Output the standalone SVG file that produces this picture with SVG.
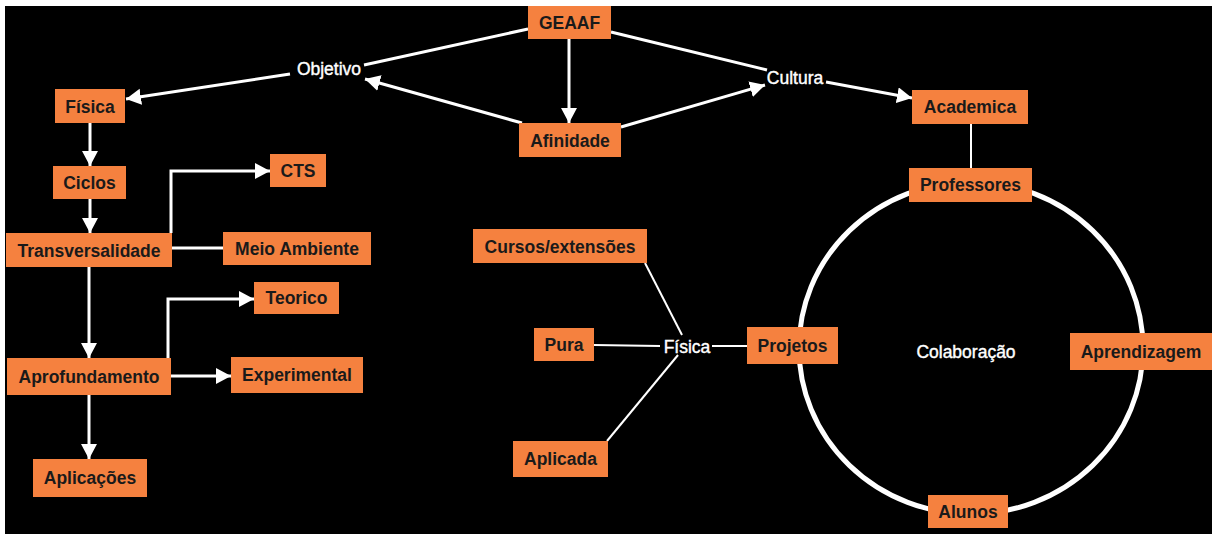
<svg xmlns="http://www.w3.org/2000/svg" width="1212" height="534" viewBox="0 0 1212 534">
<defs>
<style>
.box{fill:#F5813F;}
.bt{font-family:"Liberation Sans",Arial,sans-serif;font-weight:bold;font-size:17.5px;fill:#1a1a1a;text-anchor:middle;dominant-baseline:central;}
.lt{font-family:"Liberation Sans",Arial,sans-serif;font-size:17.5px;fill:#ffffff;stroke:#ffffff;stroke-width:0.4;text-anchor:middle;dominant-baseline:central;}
.c{stroke:#ffffff;stroke-width:3;fill:none;}
.t{stroke:#ffffff;stroke-width:2;fill:none;}
</style>
<marker id="ah" markerUnits="userSpaceOnUse" markerWidth="16" markerHeight="17" refX="15" refY="8" orient="auto">
<path d="M0,0 L15,8 L0,16 z" fill="#ffffff"/>
</marker>
</defs>
<rect x="0" y="0" width="1212" height="534" fill="#ffffff"/>
<rect x="5" y="6" width="1207" height="528" fill="#000000"/>
<ellipse cx="971" cy="348" rx="172" ry="166" fill="none" stroke="#ffffff" stroke-width="5"/>
<g id="connectors">
<path class="c" d="M528,29 L364,65"/>
<path class="c" d="M290,74 L126,99" marker-end="url(#ah)"/>
<path class="c" d="M522,123 L365,79" marker-end="url(#ah)"/>
<path class="c" d="M569,39 L569,123" marker-end="url(#ah)"/>
<path class="c" d="M611,32 L767,70"/>
<path class="c" d="M621,127 L765,85" marker-end="url(#ah)"/>
<path class="c" d="M826,82 L912,98" marker-end="url(#ah)"/>
<path class="t" d="M971,124 L971,168"/>
<path class="c" d="M90,123 L90,166" marker-end="url(#ah)"/>
<path class="c" d="M90,199 L90,233" marker-end="url(#ah)"/>
<path class="c" d="M171,233 L171,171 L270,171" marker-end="url(#ah)"/>
<path class="c" d="M172,248 L223,248"/>
<path class="c" d="M89,267 L89,358" marker-end="url(#ah)"/>
<path class="c" d="M168,358 L168,299 L254,299" marker-end="url(#ah)"/>
<path class="c" d="M171,376 L231,376" marker-end="url(#ah)"/>
<path class="c" d="M89,395 L89,459" marker-end="url(#ah)"/>
<path class="t" d="M645,263 L682,335"/>
<path class="t" d="M594,345 L660,346"/>
<path class="t" d="M712,346 L747,346"/>
<path class="t" d="M607,441 L678,355"/>
</g>
<g id="lbl-objetivo"><text class="lt" x="329" y="69">Objetivo</text></g>
<g id="lbl-cultura"><text class="lt" x="795" y="78">Cultura</text></g>
<g id="lbl-fisica2"><text class="lt" x="687" y="347">Física</text></g>
<g id="lbl-colaboracao"><text class="lt" x="966" y="352">Colaboração</text></g>
<g id="geaaf"><rect class="box" x="528" y="6" width="83" height="33"/><text class="bt" x="569.5" y="23">GEAAF</text></g>
<g id="afinidade"><rect class="box" x="519" y="123" width="102" height="34"/><text class="bt" x="570" y="141">Afinidade</text></g>
<g id="fisica"><rect class="box" x="55" y="89" width="70" height="34"/><text class="bt" x="90" y="107">Física</text></g>
<g id="ciclos"><rect class="box" x="53" y="166" width="73" height="33"/><text class="bt" x="89.5" y="183">Ciclos</text></g>
<g id="cts"><rect class="box" x="270" y="154" width="56" height="33"/><text class="bt" x="298" y="171">CTS</text></g>
<g id="transversalidade"><rect class="box" x="6" y="233" width="166" height="34"/><text class="bt" x="89" y="251">Transversalidade</text></g>
<g id="meio-ambiente"><rect class="box" x="223" y="232" width="148" height="33"/><text class="bt" x="297" y="249">Meio Ambiente</text></g>
<g id="teorico"><rect class="box" x="254" y="282" width="85" height="32"/><text class="bt" x="296.5" y="298">Teorico</text></g>
<g id="aprofundamento"><rect class="box" x="7" y="358" width="164" height="37"/><text class="bt" x="89" y="377">Aprofundamento</text></g>
<g id="experimental"><rect class="box" x="231" y="357" width="132" height="36"/><text class="bt" x="297" y="375">Experimental</text></g>
<g id="aplicacoes"><rect class="box" x="33" y="459" width="114" height="38"/><text class="bt" x="90" y="478">Aplicações</text></g>
<g id="academica"><rect class="box" x="912" y="90" width="116" height="34"/><text class="bt" x="970" y="107">Academica</text></g>
<g id="professores"><rect class="box" x="909" y="168" width="123" height="34"/><text class="bt" x="970.5" y="185">Professores</text></g>
<g id="cursos"><rect class="box" x="473" y="229" width="174" height="34"/><text class="bt" x="560" y="247">Cursos/extensões</text></g>
<g id="pura"><rect class="box" x="534" y="328" width="60" height="33"/><text class="bt" x="564" y="345">Pura</text></g>
<g id="projetos"><rect class="box" x="747" y="327" width="91" height="37"/><text class="bt" x="792.5" y="346">Projetos</text></g>
<g id="aplicada"><rect class="box" x="513" y="441" width="95" height="36"/><text class="bt" x="560.5" y="459">Aplicada</text></g>
<g id="aprendizagem"><rect class="box" x="1070" y="333" width="142" height="37"/><text class="bt" x="1141" y="352">Aprendizagem</text></g>
<g id="alunos"><rect class="box" x="928" y="495" width="80" height="33"/><text class="bt" x="968" y="512">Alunos</text></g>
</svg>
